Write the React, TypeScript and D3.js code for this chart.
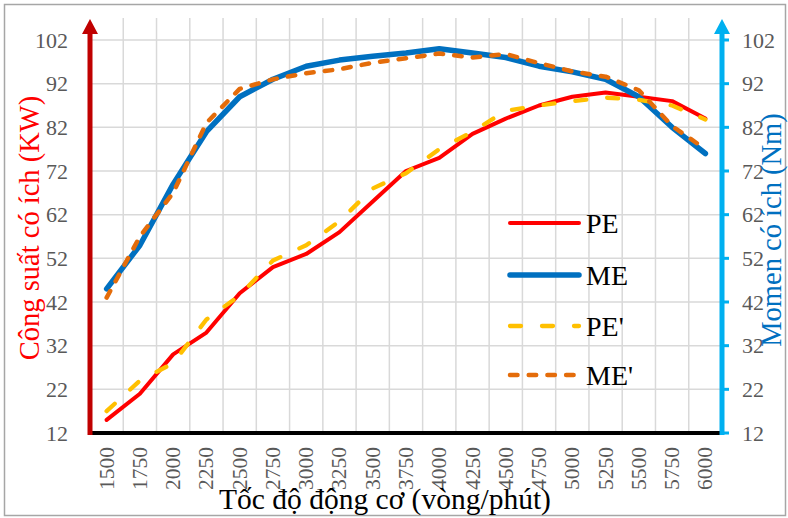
import React from "react";
import * as d3 from "d3";

const rpm = ["1500", "1750", "2000", "2250", "2500", "2750", "3000", "3250", "3500", "3750", "4000", "4250", "4500", "4750", "5000", "5250", "5500", "5750", "6000"];
const pe = [15, 21, 30, 35, 44, 50, 53, 58, 65, 72, 75, 80.5, 84, 87, 89, 90, 89, 88, 84];
const me = [45, 55, 69, 81, 89, 93, 96, 97.4, 98.3, 99, 100, 99, 98, 96, 94.7, 93, 89, 82, 76];
const peP = [17, 24, 28, 38, 43.5, 51.5, 55, 60.5, 68, 71.5, 77, 81, 85.8, 87, 88, 88.8, 88.3, 87, 83.8];
const meP = [43, 57, 67, 83, 90.8, 93, 94.4, 95.3, 96.8, 97.8, 98.9, 98, 98.8, 96.7, 94.8, 93.6, 90.5, 82.3, 77];
const yTicks = [12, 22, 32, 42, 52, 62, 72, 82, 92, 102];

const width = 788;
const height = 518;
const left = 90;
const right = 722;
const top = 18;
const bottom = 433;
const font = "'Liberation Serif', 'Times New Roman', serif";

const series = [
  { name: "PE", values: pe, color: "#FF0000", w: 4, dash: undefined },
  { name: "ME", values: me, color: "#0070C0", w: 5.5, dash: undefined },
  { name: "PE'", values: peP, color: "#FFC000", w: 4.3, dash: "11 21" },
  { name: "ME'", values: meP, color: "#E46C0A", w: 4.5, dash: "7.5 11.2" },
];

const App = () => {
  const x = d3.scaleBand().domain(rpm).range([left, right]).padding(0);
  const bw = x.bandwidth();
  const cx = (c: string) => (x(c) as number) + bw / 2;
  const y = d3.scaleLinear().domain([12, 102]).range([bottom, 40]);

  const line = (vals: number[]) =>
    d3
      .line<number>()
      .x((_, i) => cx(rpm[i]))
      .y((d) => y(d))(vals) as string;

  const legendX1 = 510;
  const legendX2 = 579;
  const legendY = [223, 275, 326, 375];

  return (
    <svg
      width={width}
      height={height}
      style={{ position: "absolute", left: 0, top: 0, background: "#fff" }}
      fontFamily={font}
    >
      <rect x={4.5} y={4.5} width={width - 7} height={height - 7} fill="#fff" stroke="#A6A6A6" strokeWidth={1.5} />

      {/* grid */}
      {yTicks.slice(1).map((t) => (
        <line key={"h" + t} x1={left} x2={right} y1={y(t)} y2={y(t)} stroke="#D9D9D9" strokeWidth={1.5} />
      ))}
      {rpm.slice(1).map((c) => (
        <line key={"v" + c} x1={x(c)} x2={x(c)} y1={top} y2={bottom} stroke="#D9D9D9" strokeWidth={1.5} />
      ))}

      {/* series */}
      {series.map((s) => (
        <path
          key={s.name}
          d={line(s.values)}
          fill="none"
          stroke={s.color}
          strokeWidth={s.w}
          strokeDasharray={s.dash}
          strokeLinecap="round"
          strokeLinejoin="round"
        />
      ))}

      {/* bottom axis */}
      <line x1={left} x2={right} y1={bottom} y2={bottom} stroke="#000" strokeWidth={4} />

      {/* left axis with arrow */}
      <line x1={left} x2={left} y1={bottom + 2} y2={30} stroke="#C00000" strokeWidth={5} />
      <path d={`M${left - 8},${34} L${left},${19} L${left + 8},${34} Z`} fill="#C00000" />

      {/* right axis with arrow and ticks */}
      <line x1={right} x2={right} y1={bottom + 2} y2={30} stroke="#00B0F0" strokeWidth={5} />
      <path d={`M${right - 8},${34} L${right},${19} L${right + 8},${34} Z`} fill="#00B0F0" />
      {yTicks.map((t) => (
        <line key={"rt" + t} x1={right} x2={right + 7} y1={y(t)} y2={y(t)} stroke="#00B0F0" strokeWidth={3} />
      ))}

      {/* y tick labels */}
      {yTicks.map((t) => (
        <text key={"ll" + t} x={68} y={y(t)} textAnchor="end" dominantBaseline="central" fontSize={22} fill="#595959">
          {t}
        </text>
      ))}
      {yTicks.map((t) => (
        <text key={"rl" + t} x={742} y={y(t)} textAnchor="start" dominantBaseline="central" fontSize={22} fill="#595959">
          {t}
        </text>
      ))}

      {/* x tick labels */}
      {rpm.map((c) => (
        <text
          key={"xl" + c}
          transform={`translate(${cx(c)},${447}) rotate(-90)`}
          textAnchor="end"
          dominantBaseline="central"
          fontSize={21.5}
          fill="#595959"
        >
          {c}
        </text>
      ))}

      {/* axis titles */}
      <text transform="translate(29,228) rotate(-90)" textAnchor="middle" dominantBaseline="central" fontSize={28.5} fill="#FF0000">
        Công suất có ích (KW)
      </text>
      <text transform="translate(771,230) rotate(-90)" textAnchor="middle" dominantBaseline="central" fontSize={28.5} fill="#0070C0">
        Momen có ích (Nm)
      </text>
      <text x={385} y={509} textAnchor="middle" fontSize={29.5} fill="#000">
        Tốc độ động cơ (vòng/phút)
      </text>

      {/* legend */}
      {series.map((s, i) => (
        <g key={"lg" + s.name}>
          <line
            x1={legendX1}
            x2={legendX2}
            y1={legendY[i]}
            y2={legendY[i]}
            stroke={s.color}
            strokeWidth={s.w}
            strokeDasharray={s.dash}
            strokeLinecap="round"
          />
          <text x={586} y={legendY[i]} dominantBaseline="central" fontSize={28} fill="#000">
            {s.name}
          </text>
        </g>
      ))}
    </svg>
  );
};

export default App;
